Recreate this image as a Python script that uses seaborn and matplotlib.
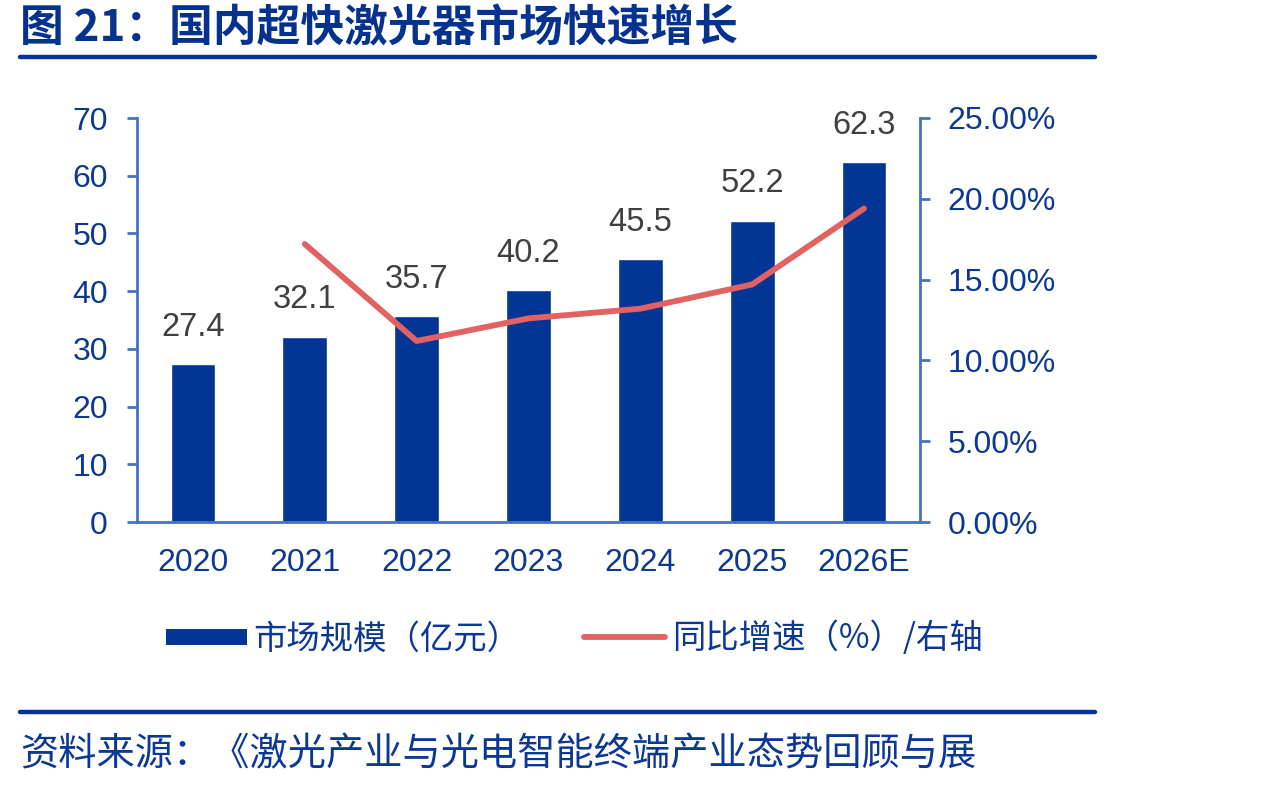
import numpy as np
import seaborn as sns
import matplotlib.pyplot as plt
from matplotlib.lines import Line2D

# data
years = ["2020", "2021", "2022", "2023", "2024", "2025", "2026E"]
market_size = [27.4, 32.1, 35.7, 40.2, 45.5, 52.2, 62.3]   # 亿元
growth_years = ["2021", "2022", "2023", "2024", "2025", "2026E"]
growth_pct = [17.2, 11.2, 12.6, 13.2, 14.7, 19.4]          # %, right axis
left_ticks = [0, 10, 20, 30, 40, 50, 60, 70]
right_ticks = [0, 5, 10, 15, 20, 25]

title = "图 21：国内超快激光器市场快速增长"
source = "资料来源：《激光产业与光电智能终端产业态势回顾与展"
legend_labels = ["市场规模（亿元）", "同比增速（%）/右轴"]

# styles
bar_color = "#023596"
line_color = "#E26262"
axis_color = "#4472C4"
text_blue = "#0B3894"
label_grey = "#404040"
cjk = ["Noto Sans CJK SC", "DejaVu Sans"]

sns.set_style("white")
plt.rcParams["font.family"] = ["Liberation Sans", "Noto Sans CJK SC", "DejaVu Sans"]

fig = plt.figure(figsize=(12.63, 7.87), dpi=100)
ax = fig.add_axes([137 / 1263, 1 - 522 / 787, 783 / 1263, 404 / 787])

sns.barplot(x=years, y=market_size, color=bar_color, saturation=1,
            width=0.4, ax=ax)
ax.set_xlim(-0.5, len(years) - 0.5)
ax.set_ylim(0, 70)
ax.set_yticks(left_ticks)
ax.set_xlabel("")
ax.set_ylabel("")

# value labels above bars
for i, v in enumerate(market_size):
    ax.annotate(f"{v:.1f}", (i, v), xytext=(0, 26.5), textcoords="offset points",
                ha="center", va="center", fontsize=23.5, color=label_grey)

ax2 = ax.twinx()
growth_x = [years.index(y) for y in growth_years]
sns.lineplot(x=growth_x, y=growth_pct, color=line_color, linewidth=4.2,
             solid_capstyle="round", ax=ax2)
ax2.set_ylim(0, 25)
ax2.set_yticks(right_ticks)
ax2.set_yticklabels([f"{t:.2f}%" for t in right_ticks])
ax2.set_xlim(-0.5, len(years) - 0.5)
ax2.set_ylabel("")

for s in ["top", "right"]:
    ax.spines[s].set_visible(False)
for s in ["top", "left", "bottom"]:
    ax2.spines[s].set_visible(False)
for sp in [ax.spines["left"], ax.spines["bottom"], ax2.spines["right"]]:
    sp.set_color(axis_color)
    sp.set_linewidth(2)

ax.set_xticks(np.arange(-0.5, len(years), 1), minor=True)
ax.tick_params(axis="x", which="major", length=0, pad=19, labelsize=23, labelcolor=text_blue)
ax.tick_params(axis="x", which="minor", length=7, width=2, color=axis_color, direction="out")
ax.tick_params(axis="y", length=7, width=2, color=axis_color, direction="out",
               pad=14, labelsize=23, labelcolor=text_blue, left=True)
ax2.tick_params(axis="y", length=7, width=2, color=axis_color, direction="out",
                pad=13, labelsize=23, labelcolor=text_blue, right=True)

# legend
handles = [Line2D([], [], color=bar_color, lw=11.5, solid_capstyle="butt"),
           Line2D([], [], color=line_color, lw=4.2, solid_capstyle="round")]
fig.legend(handles, legend_labels, loc="center left",
           bbox_to_anchor=(166 / 1263, 1 - 639 / 787), ncol=2, frameon=False,
           handlelength=2.43, handletextpad=0.2, columnspacing=1.9,
           borderpad=0, borderaxespad=0, labelcolor=text_blue,
           prop={"family": cjk, "size": 24})

# title, rules and source
fig.text(20 / 1263, 1 - 28 / 787, title, ha="left", va="center",
         fontsize=31.5, fontweight="bold", color="#05318F", family=cjk)
fig.add_artist(Line2D([20 / 1263, 1095 / 1263], [1 - 57 / 787] * 2,
                      lw=3.2, color="#00349A"))
fig.add_artist(Line2D([20 / 1263, 1095 / 1263], [1 - 712 / 787] * 2,
                      lw=3.2, color="#00349A"))
fig.text(20 / 1263, 1 - 755 / 787, source, ha="left", va="center",
         fontsize=27.5, color=text_blue, family=cjk)

fig.savefig("out.png", dpi=100)
